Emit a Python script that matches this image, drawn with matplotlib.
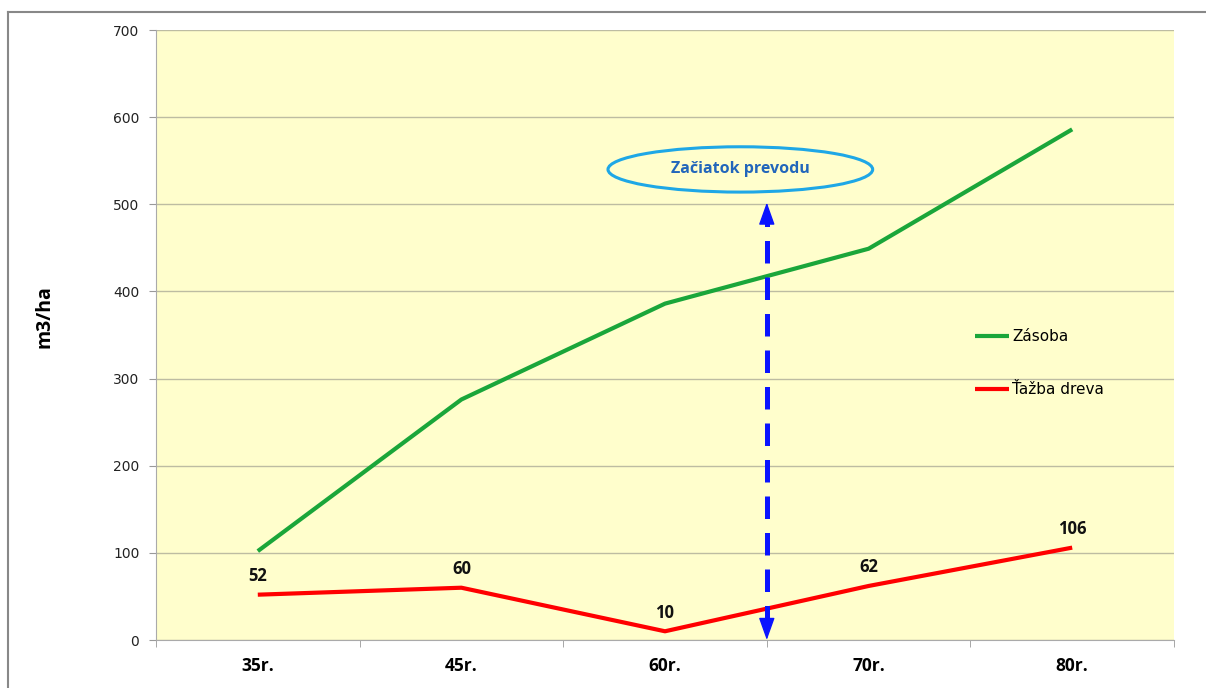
import matplotlib.pyplot as plt
from matplotlib.patches import Ellipse
from matplotlib.lines import Line2D

categories = ['35r.', '45r.', '60r.', '70r.', '80r.']
zasoba = [102, 276, 386, 449, 586]
tazba = [52, 60, 10, 62, 106]
y_ticks = [0, 100, 200, 300, 400, 500, 600, 700]

fig = plt.figure(figsize=(12.06, 6.88), dpi=100)
ax = fig.add_axes([156 / 1206, 1 - 640 / 688, (1174 - 156) / 1206, 610 / 688])
ax.set_facecolor('#FFFECC')

x = list(range(len(categories)))
ax.plot(x, zasoba, color='#1AA63A', lw=3, label='Zásoba', solid_capstyle='butt', zorder=3)
ax.plot(x, tazba, color='#FF0000', lw=3, label='Ťažba dreva', solid_capstyle='butt', zorder=3)

for xi, v in zip(x, tazba):
    ax.annotate(str(v), (xi, v), xytext=(0, 7), textcoords='offset points',
                ha='center', va='bottom', fontsize=12, fontweight='bold',
                family='Open Sans', color='#111111')

ax.set_xlim(-0.5, len(categories) - 0.5)
ax.set_ylim(0, 700)
ax.set_yticks(y_ticks)
ax.set_yticklabels([str(t) for t in y_ticks], fontsize=10, color='#222222', family='DejaVu Sans')
ax.set_xticks(x)
ax.set_xticklabels(categories, fontsize=12.5, fontweight='bold', family='Open Sans')
ax.set_xticks([i - 0.5 for i in range(len(categories) + 1)], minor=True)
ax.tick_params(axis='x', which='major', length=0, pad=12)
ax.tick_params(axis='x', which='minor', length=5, color='#999999', direction='out')
ax.tick_params(axis='y', length=5, color='#999999', pad=7)
ax.grid(axis='y', color='#BDBCA2', lw=1)
ax.set_axisbelow(True)
for s in ['top', 'right']:
    ax.spines[s].set_visible(False)
for s in ['left', 'bottom']:
    ax.spines[s].set_color('#AAAAAA')

ax.set_ylabel('m3/ha', fontsize=14, fontweight='bold', family='Open Sans')
ax.yaxis.set_label_coords(-0.100, 0.53)

# transition marker between 60r. and 70r.
xa = 2.5
ax.plot([xa, xa], [14, 478], color='#0A14FF', lw=3.6, dashes=(4.5, 2.8), zorder=4)
head = dict(arrowstyle='-|>,head_length=0.7,head_width=0.25', mutation_scale=20,
            color='#0A14FF', lw=1, shrinkA=0, shrinkB=0)
ax.annotate('', xy=(xa, 502), xytext=(xa, 478), arrowprops=head, zorder=4)
ax.annotate('', xy=(xa, 0), xytext=(xa, 24), arrowprops=head,
            annotation_clip=False, zorder=4)

ax.add_patch(Ellipse((2.37, 540), 1.30, 52, facecolor='none',
                     edgecolor='#1EA7E6', lw=2.2, zorder=4))
ax.text(2.37, 540, 'Začiatok prevodu', ha='center', va='center', fontsize=11.5,
        fontweight='bold', family='Open Sans', color='#2266BB', zorder=5)

ax.legend(loc='center left', bbox_to_anchor=(0.805, 0.454), frameon=False,
          borderpad=0, borderaxespad=0, handlelength=2.2, handletextpad=0.2,
          labelspacing=2.5, prop={'family': 'DejaVu Sans', 'size': 11})

# outer frame (top and left)
fig.add_artist(Line2D([8 / 1206, 1], [1 - 12 / 688] * 2, color='#888888', lw=1.5))
fig.add_artist(Line2D([8 / 1206] * 2, [0, 1 - 12 / 688], color='#888888', lw=1.5))

fig.savefig('out.png', dpi=100)
